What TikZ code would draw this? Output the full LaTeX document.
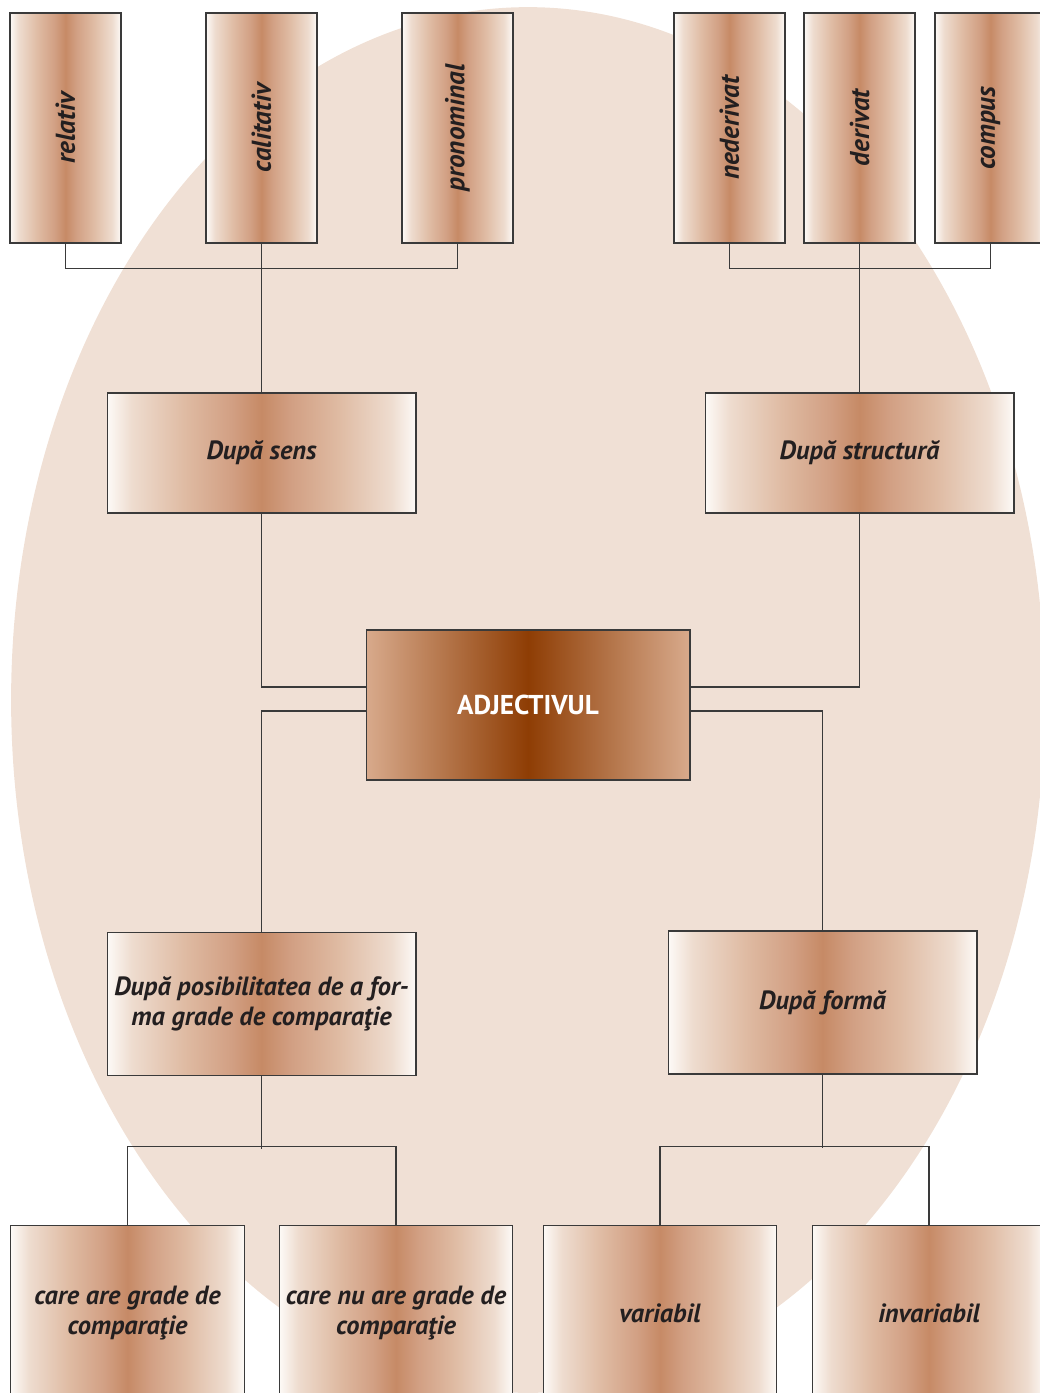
\documentclass[tikz,border=0pt]{standalone}
\usepackage{fontspec}
\setmainfont{PT Sans}
\usetikzlibrary{positioning}

\definecolor{fundal}{HTML}{F0E0D5}
\definecolor{arama}{HTML}{C68A66}
\definecolor{margine}{HTML}{FDFAF7}
\definecolor{arama1}{HTML}{EEDCCF}
\definecolor{arama2}{HTML}{DFBBA3}
\definecolor{arama3}{HTML}{D2A084}
\definecolor{adjmargine}{HTML}{D8AA8C}
\definecolor{adjmijloc}{HTML}{8E3D04}
\definecolor{contur}{HTML}{3A3A3A}
\definecolor{scris}{HTML}{231F20}

\pgfdeclarehorizontalshading{aramiu}{100bp}{color(0bp)=(margine); color(25bp)=(margine);
  color(29bp)=(arama1); color(37.5bp)=(arama2); color(45bp)=(arama3); color(50bp)=(arama);
  color(55bp)=(arama3); color(62.5bp)=(arama2); color(71bp)=(arama1); color(75bp)=(margine);
  color(100bp)=(margine)}

\tikzset{
  caseta/.style={draw=contur, line width=0.6pt, shade, shading=aramiu,
    text=scris, align=center, inner sep=2pt,
    font=\fontsize{15}{17}\selectfont\bfseries\itshape},
  vertical/.style={caseta, minimum width=2.22cm, minimum height=4.6cm,
    font=\fontsize{15.5}{17}\selectfont\bfseries\itshape},
  criteriu/.style={caseta, minimum width=6.18cm, minimum height=2.4cm},
  criteriumare/.style={caseta, minimum width=6.18cm, minimum height=2.86cm},
  jos/.style={caseta, minimum width=4.67cm, minimum height=3.52cm},
  legatura/.style={draw=contur, line width=0.6pt},
}

\begin{document}
\begin{tikzpicture}[x=0.02cm, y=-0.02cm]
\useasboundingbox (0,0) rectangle (1040,1393);
\clip (0,0) rectangle (1040,1393);
\fill[fundal] (528,700) ellipse [x radius=10.34cm, y radius=13.86cm];

\node[vertical] (relativ) at (65.5,128) {\rotatebox{90}{relativ}};
\node[vertical] (calitativ) at (261.5,128) {\rotatebox{90}{calitativ}};
\node[vertical] (pronominal) at (457.5,128) {\rotatebox{90}{pronominal}};
\node[vertical] (nederivat) at (729.5,128) {\rotatebox{90}{nederivat}};
\node[vertical] (derivat) at (859.5,128) {\rotatebox{90}{derivat}};
\node[vertical] (compus) at (990.5,128) {\rotatebox{90}{compus}};

\node[criteriu] (sens) at (261.5,453) {După sens};
\node[criteriu] (structura) at (859.5,453) {După structură};

\node[draw=contur, line width=0.6pt, minimum width=6.48cm, minimum height=3cm,
  left color=adjmargine, right color=adjmargine, middle color=adjmijloc, text=white,
  font=\fontsize{15.5}{17}\selectfont\bfseries] (adj) at (528,705) {ADJECTIVUL};

\node[criteriumare] (grade) at (261.5,1004) {După posibilitatea de a for-\\ma grade de comparaţie};
\node[criteriumare] (forma) at (822.5,1002.5) {După formă};

\node[jos] (are) at (127.5,1313) {care are grade de\\comparaţie};
\node[jos] (nuare) at (396,1313) {care nu are grade de\\comparaţie};
\node[jos] (variabil) at (660,1313) {variabil};
\node[jos] (invariabil) at (929,1313) {invariabil};

\draw[legatura] (relativ.south) -- ++(0,25) -| (pronominal.south);
\draw[legatura] (calitativ.south) -- (sens.north);
\draw[legatura] (nederivat.south) -- ++(0,25) -| (compus.south);
\draw[legatura] (derivat.south) -- (structura.north);

\draw[legatura] (sens.south) |- ([yshift=0.36cm]adj.west);
\draw[legatura] (structura.south) |- ([yshift=0.36cm]adj.east);
\draw[legatura] ([yshift=-0.12cm]adj.west) -| (grade.north);
\draw[legatura] ([yshift=-0.12cm]adj.east) -| (forma.north);

\draw[legatura] (grade.south) -- ++(0,73);
\draw[legatura] (are.north) -- ++(0,-78) -| (nuare.north);
\draw[legatura] (forma.south) -- ++(0,73);
\draw[legatura] (variabil.north) -- ++(0,-78) -| (invariabil.north);
\end{tikzpicture}
\end{document}
